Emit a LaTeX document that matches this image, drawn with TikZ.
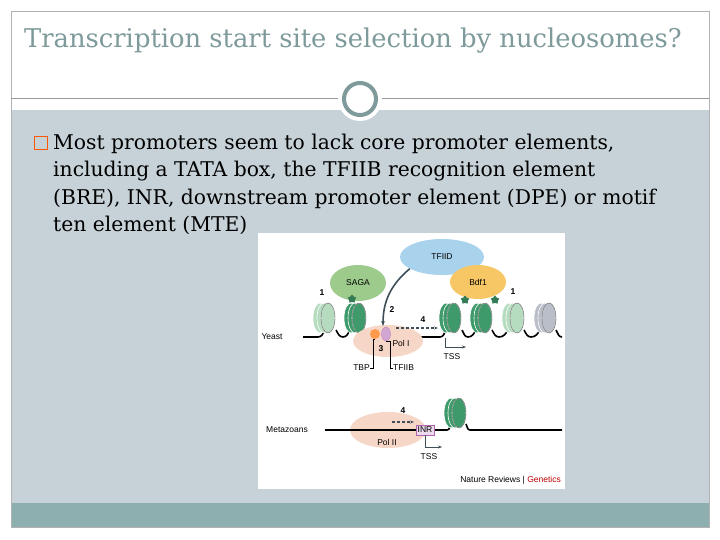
\documentclass[tikz,border=0pt]{standalone}
\usepackage{fontspec}
\setmainfont{DejaVu Serif}
\newfontfamily\sans{Liberation Sans}
\usetikzlibrary{shapes.geometric,arrows.meta}
\definecolor{bodybg}{HTML}{C7D2D8}
\definecolor{strip}{HTML}{8EAFAF}
\definecolor{teal}{HTML}{7E9A9B}
\definecolor{ngreen}{HTML}{3E9A6A}
\definecolor{lgreen}{HTML}{B6DCC0}
\definecolor{ngray}{HTML}{B9BEC8}
\definecolor{saga}{HTML}{9CCB8C}
\definecolor{tfiid}{HTML}{A9D3EC}
\definecolor{bdf}{HTML}{F7C766}
\definecolor{pol}{HTML}{F6D6C6}
\definecolor{arr}{HTML}{3E4F58}
\newcommand\nucl[3]{%
 \foreach \i in {0,4,8}{\fill[#3,draw=white,line width=0.6pt] (#1+\i,#2) ellipse (7 and 15);}
 \draw[black!70,line width=0.4pt] (#1+8,#2) ellipse (7 and 15);}
\tikzset{fig/.style={font=\sans\fontsize{8.5}{9}\selectfont,inner sep=0pt},
 num/.style={font=\sans\bfseries\fontsize{8.5}{9}\selectfont,inner sep=0pt},
 body/.style={anchor=base west,font=\fontsize{20.3}{24}\selectfont,inner sep=0pt},
 dna/.style={line width=1.6pt,black}}
\begin{document}
\begin{tikzpicture}[x=1pt,y=-1pt]
\useasboundingbox (0,0) rectangle (720,540);
\fill[white] (0,0) rectangle (720,540);
\fill[bodybg] (11,110) rectangle (709,503);
\fill[strip] (11,503) rectangle (709,527);
\draw[gray!60,line width=0.5pt] (11,11) rectangle (709,527);
\draw[gray!80,line width=0.8pt] (11,98) -- (709,98);
\fill[white] (360,99) circle (22);
\draw[teal,line width=4pt] (360,99) circle (16);
\node[anchor=base west,inner sep=0pt,text=teal,font=\fontsize{25.8}{30}\selectfont] (title) at (24,48) {Transcription start site selection by nucleosomes?};
\node[draw=orange!70!red,line width=1pt,minimum size=13pt,inner sep=0pt] (bul) at (41,143) {};
\node[body] (l1) at (53,150) {Most promoters seem to lack core promoter elements,};
\node[body] (l2) at (53,177) {including a TATA box, the TFIIB recognition element};
\node[body] (l3) at (53,205) {(BRE), INR, downstream promoter element (DPE) or motif};
\node[body] (l4) at (53,232) {ten element (MTE)};
% figure
\fill[white] (258,233) rectangle (565,489);
% yeast DNA
\draw[dna] (303,337) -- (318,337) to[out=0,in=-120] (325,330);
\draw[dna] (336,330) to[out=-60,in=180] (343,337) to[out=0,in=-120] (350,330);
\draw[dna] (368,330) to[out=-60,in=180] (375,337) -- (440,337) to[out=0,in=-120] (446,330);
\draw[dna] (462,330) to[out=-60,in=180] (468,337) to[out=0,in=-120] (476,330);
\draw[dna] (492,330) to[out=-60,in=180] (499,337) to[out=0,in=-120] (508,330);
\draw[dna] (524,330) to[out=-60,in=180] (531,337) to[out=0,in=-120] (540,330);
\draw[dna] (556,330) to[out=-60,in=180] (562,337);
\nucl{320}{318}{lgreen}
\nucl{351}{318}{ngreen}
\nucl{446}{318}{ngreen}
\nucl{477}{318}{ngreen}
\nucl{509}{318}{lgreen}
\nucl{541}{318}{ngray}
% proteins
\node[ellipse,fill=tfiid,minimum width=84pt,minimum height=36pt,fig] (tfiid) at (442,257) {TFIID};
\node[ellipse,fill=saga,minimum width=56pt,minimum height=36pt,fig] (saga) at (358,283) {SAGA};
\node[ellipse,fill=bdf,minimum width=56pt,minimum height=34pt,fig] (bdf) at (478,282) {Bdf1};
\node[star,star points=5,fill=ngreen!80!black,minimum size=9pt,inner sep=0pt] (s1) at (352,299) {};
\node[star,star points=5,fill=ngreen!80!black,minimum size=9pt,inner sep=0pt] (s2) at (465,300) {};
\node[star,star points=5,fill=ngreen!80!black,minimum size=9pt,inner sep=0pt] (s3) at (495,300) {};
\node[ellipse,fill=pol,minimum width=70pt,minimum height=32pt,fig] (pol) at (388,341) {};
\node[fig] (polt) at (401,343) {Pol I};
\node[circle,fill=orange!60!pink,minimum size=10pt,inner sep=0pt] (tbp) at (375,334) {};
\node[ellipse,fill=violet!35,draw=violet!50,minimum width=9pt,minimum height=14pt,inner sep=0pt] (tfiib) at (386,334) {};
\draw[arr,line width=1.6pt,-{Stealth[length=5pt]}] (tfiid.200) to[out=220,in=90] (383,326);
\node[num] (n2) at (392,310) {2};
\node[num] (n3) at (381,349) {3};
\node[num] (n4) at (423,320) {4};
\node[num] (n1a) at (322,293) {1};
\node[num] (n1b) at (513,292) {1};
\coordinate (d4a) at (396,328); \coordinate (d4b) at (438,328);
\draw[arr,line width=1.3pt,dash pattern=on 3pt off 2pt,-{Stealth[length=4pt]}] (d4a) -- (d4b);
\node[fig] (yeast) at (272,337) {Yeast};
\coordinate (t0) at (445,338); \coordinate (t1) at (445,347); \coordinate (t2) at (466,347);
\draw[arr,line width=0.6pt,-{Stealth[length=4pt]}] (t0) -- (t1) -- (t2);
\node[fig] (tss1) at (452,357) {TSS};
\node[fig,anchor=east] (tbpl) at (370,368) {TBP};
\node[fig,anchor=west] (tfiibl) at (393,368) {TFIIB};
\draw[line width=0.4pt] (tbpl.east) -- ++(3,0) |- (tbp.south);
\draw[line width=0.4pt] (tfiibl.west) -- ++(-3,0) |- (tfiib.south);
% metazoans
\draw[dna] (325,430) -- (447,430) to[out=0,in=-120] (451,424);
\draw[dna] (466,424) to[out=-60,in=180] (470,430) -- (562,430);
\node[ellipse,fill=pol,minimum width=76pt,minimum height=36pt] (pol2) at (388,430) {};
\draw[dna] (350,430) -- (420,430);
\node[fig] (pol2t) at (387,442) {Pol II};
\nucl{451}{413}{ngreen}
\node[draw=violet!60,fill=violet!15,minimum width=18pt,minimum height=10pt,fig] (inr) at (425,430) {INR};
\coordinate (d5a) at (392,422); \coordinate (d5b) at (414,422);
\draw[arr,line width=1.3pt,dash pattern=on 3pt off 2pt,-{Stealth[length=4pt]}] (d5a) -- (d5b);
\node[num] (n4b) at (403,411) {4};
\node[fig] (meta) at (287,430) {Metazoans};
\coordinate (u0) at (425,435); \coordinate (u1) at (425,447); \coordinate (u2) at (442,447);
\draw[arr,line width=0.6pt,-{Stealth[length=4pt]}] (u0) -- (u1) -- (u2);
\node[fig] (tss2) at (429,457) {TSS};
\node[fig,anchor=east] (nr) at (561,480) {Nature Reviews | \textcolor{red!75!black}{Genetics}};
\end{tikzpicture}
\end{document}
